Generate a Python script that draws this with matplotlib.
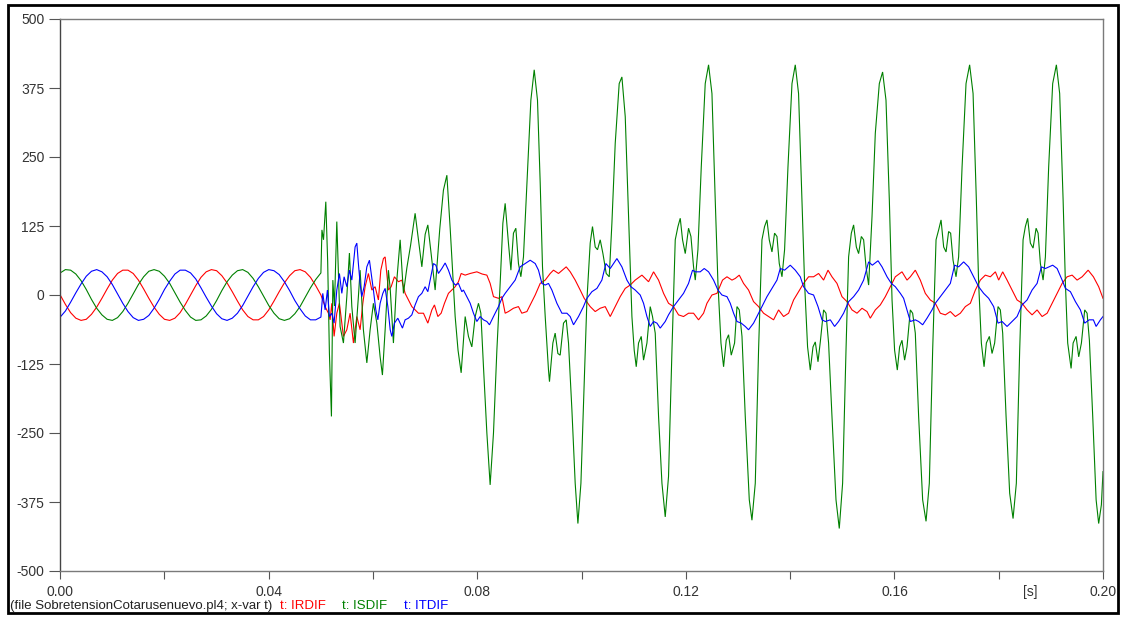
import matplotlib
matplotlib.use("Agg")
import matplotlib.pyplot as plt
from matplotlib.patches import Rectangle

# ---------------- data (time in ms, current values) ----------------
pre_t_ms = list(range(0, 51))
red_pre = [0, -17, -32, -42, -46, -44, -35, -22, -6, 11, 27, 39, 45, 45, 39, 27, 11, -6, -22, -35,
           -44, -46, -42, -32, -17, 0, 17, 32, 42, 46, 44, 35, 22, 6, -11, -27, -39, -45, -45, -39,
           -27, -11, 6, 22, 35, 44, 46, 42, 32, 17, 0]
green_pre = [40, 46, 45, 38, 26, 10, -8, -24, -36, -44, -46, -41, -30, -15, 2, 19, 33, 43, 46, 43,
             34, 21, 4, -13, -28, -40, -46, -45, -38, -26, -10, 8, 24, 36, 44, 46, 41, 30, 15, -2,
             -19, -33, -43, -46, -43, -34, -21, -4, 13, 28, 40]
blue_pre = [-40, -29, -13, 4, 20, 34, 43, 46, 42, 33, 19, 2, -15, -30, -41, -46, -44, -37, -24, -8,
            10, 25, 38, 45, 45, 40, 29, 13, -4, -20, -34, -43, -46, -42, -33, -19, -2, 15, 30, 41,
            46, 44, 37, 24, 8, -10, -25, -38, -45, -45, -40]

red_post = [(50.81,-21),(51.44,-33),(51.77,-45),(52.09,-15),(52.53,-75),(53.05,-33),(53.55,-15),(54.32,-75),
    (54.97,-63),(55.60,-33),(56.24,-87),(56.89,-39),(57.52,-63),(58.04,-15),(58.48,15),(59.11,39),(59.77,9),
    (60.40,15),(61.03,-9),(61.49,45),(61.99,66),(62.32,69),(62.95,9),(63.47,15),(64.10,33),(64.87,24),
    (65.52,27),(66.15,3),(66.79,-9),(67.44,-21),(68.07,-27),(68.71,-33),(69.67,-33),(70.51,-51),(71.28,-27),
    (71.78,-18),(72.43,-39),(73.06,-33),(73.70,-15),(74.46,3),(75.12,9),(75.75,15),(76.38,24),(76.90,39),
    (77.67,36),(78.63,39),(79.91,42),(80.93,38),(81.83,36),(82.46,21),(83.10,-3),(84.06,-6),(84.71,-3),
    (85.34,-33),(85.97,-30),(86.93,-24),(87.89,-21),(88.53,-33),(89.51,-30),(90.14,-18),(91.10,0),(92.06,21),
    (93.02,27),(93.98,39),(94.61,45),(95.57,39),(97.05,51),(97.82,42),(98.77,27),(99.73,9),(100.50,-6),
    (101.65,-21),(102.61,-30),(103.57,-24),(104.53,-21),(105.49,-39),(106.45,-21),(107.40,-3),(108.37,12),
    (109.32,18),(110.28,27),(111.57,36),(112.84,24),(113.80,42),(114.76,27),(115.72,3),(116.67,-15),
    (117.63,-21),(118.59,-36),(119.55,-39),(120.51,-33),(121.47,-33),(122.43,-45),(123.39,-33),(124.04,-15),
    (125.00,0),(125.96,3),(127.03,27),(127.88,33),(128.84,27),(129.47,30),(130.24,36),(131.06,21),(132.02,9),
    (132.98,-12),(133.94,-21),(134.90,-33),(135.86,-39),(136.82,-45),(137.78,-27),(138.74,-39),(139.70,-33),
    (140.66,-9),(141.61,6),(142.57,21),(143.53,33),(144.49,33),(145.45,39),(146.41,27),(147.26,45),(148.02,33),
    (148.98,21),(149.94,-3),(150.90,-12),(151.86,-27),(152.82,-33),(153.78,-24),(154.74,-30),(155.37,-42),
    (156.33,-27),(157.29,-18),(158.25,-3),(159.21,15),(160.17,33),(161.45,42),(162.41,27),(163.05,33),
    (164.00,45),(164.96,27),(165.92,3),(166.88,-9),(167.84,-15),(168.80,-33),(169.76,-36),(170.72,-30),
    (171.68,-39),(172.64,-33),(173.60,-21),(174.56,-15),(175.52,9),(176.47,27),(177.43,36),(178.40,33),
    (179.36,42),(179.99,27),(180.76,42),(181.60,27),(182.56,9),(183.52,-9),(184.48,-15),(185.44,-27),
    (186.40,-36),(187.36,-27),(188.32,-39),(189.29,-33),(190.24,-15),(191.20,3),(192.16,21),(193.12,33),
    (194.08,36),(195.03,27),(196.00,33),(197.15,45),(198.16,33),(199.17,15),(200.0,-6)]

blue_post = [(50.36,3),(50.81,-27),(51.25,9),(51.63,-39),(52.09,-33),(52.53,-51),(53.05,9),(53.55,39),(54.01,3),
    (54.45,33),(54.97,15),(55.47,45),(55.93,27),(56.56,87),(56.89,94),(57.19,57),(57.52,21),(57.84,-3),(58.29,15),
    (58.81,51),(59.31,63),(59.57,45),(60.07,9),(60.53,-27),(60.92,-45),(61.36,-15),(61.88,3),(62.32,12),
    (62.84,-21),(63.29,-63),(63.60,-75),(64.10,-51),(64.75,-42),(65.20,-51),(65.64,-60),(66.15,-45),(66.79,-42),
    (67.44,-36),(68.07,-18),(68.71,-3),(69.36,3),(69.99,15),(70.51,6),(70.95,27),(71.59,57),(72.05,54),
    (72.54,39),(73.20,48),(73.83,58),(74.46,45),(75.12,27),(75.75,18),(76.38,21),(77.03,6),(77.34,9),
    (77.99,-3),(78.63,-15),(79.26,-33),(79.91,-48),(80.55,-39),(81.18,-45),(81.83,-48),(82.33,-54),(83.10,-39),
    (84.06,-21),(84.71,-6),(85.34,3),(86.30,15),(87.26,27),(88.22,51),(89.17,57),(90.14,63),(91.10,57),
    (91.73,45),(92.38,21),(93.02,18),(93.65,21),(94.30,9),(95.26,-15),(96.22,-33),(97.18,-33),(97.81,-39),
    (98.45,-54),(99.41,-39),(100.36,-21),(101.02,-6),(101.98,6),(102.94,12),(103.89,27),(104.66,57),(105.49,48),
    (106.12,57),(106.77,66),(107.73,51),(108.69,27),(109.46,15),(110.28,9),(111.24,0),(111.88,-15),(112.53,-39),
    (113.16,-57),(113.80,-48),(114.45,-51),(115.08,-60),(116.04,-48),(116.67,-36),(117.63,-21),(118.59,-9),
    (119.55,3),(120.51,21),(121.28,45),(121.80,42),(122.75,42),(123.52,48),(124.35,42),(125.31,27),(126.15,9),
    (126.92,0),(127.88,-3),(128.51,-15),(129.15,-33),(129.80,-48),(130.62,-51),(131.39,-57),(132.02,-63),
    (132.98,-51),(133.63,-39),(134.59,-21),(135.55,-3),(136.51,12),(137.47,27),(138.10,48),(138.93,45),
    (140.02,54),(140.98,45),(141.94,33),(142.57,15),(143.53,3),(144.49,0),(145.34,-21),(146.11,-45),
    (146.74,-48),(147.70,-45),(148.52,-57),(149.29,-48),(150.25,-33),(151.21,-12),(152.17,-3),(153.13,9),
    (154.09,27),(155.05,60),(155.76,54),(156.85,62),(157.62,51),(158.58,33),(159.40,21),(160.17,15),
    (161.13,3),(161.76,-6),(162.41,-27),(163.05,-48),(164.00,-45),(164.64,-48),(165.41,-54),(166.25,-42),
    (167.21,-27),(167.84,-15),(168.80,-3),(169.76,9),(170.72,21),(171.54,54),(172.31,51),(173.27,60),
    (174.23,51),(175.19,33),(176.15,15),(177.11,3),(178.07,-6),(179.03,-21),(179.87,-51),(180.64,-48),
    (181.60,-57),(182.56,-48),(183.52,-39),(184.48,-18),(185.44,-9),(186.40,9),(187.36,21),(188.18,51),
    (188.95,48),(190.35,54),(191.20,48),(192.16,27),(192.79,12),(193.75,6),(194.71,-12),(195.67,-27),
    (196.49,-51),(197.34,-45),(198.16,-45),(198.68,-57),(199.50,-45),(200.0,-39)]

green_post = [(50.2,118),(50.5,100),(50.94,169),(51.3,60),(51.63,-105),(52.02,-220),(52.29,27),(52.6,-20),
    (53.05,133),(53.68,-57),(54.32,-87),(54.97,-3),(55.47,76),(55.93,-21),(56.56,-87),(57.19,-3),(57.52,45),
    (58.15,-63),(58.81,-123),(59.44,-63),(60.07,-15),(60.73,-51),(61.36,-112),(61.80,-145),(62.32,-63),
    (62.95,45),(63.3,10),(63.91,-87),(64.5,20),(65.20,100),(65.83,3),(66.5,50),(67.2,90),(68.07,148),
    (68.7,100),(69.36,51),(70.0,110),(70.51,127),(71.2,70),(71.91,9),(72.8,120),(73.5,190),(74.16,217),
    (74.8,120),(75.75,-39),(76.3,-100),(76.90,-141),(77.67,-39),(78.30,-75),(78.95,-94),(79.59,-39),
    (80.22,-15),(80.68,-33),(81.18,-130),(81.83,-250),(82.46,-344),(83.10,-250),(83.75,-100),(84.38,21),
    (84.90,130),(85.34,166),(85.97,94),(86.44,45),(86.93,112),(87.39,121),(87.89,57),(88.35,33),(88.85,69),
    (89.51,202),(90.27,353),(90.91,408),(91.54,353),(92.06,203),(92.50,51),(93.02,-39),(93.65,-136),
    (93.84,-157),(94.49,-87),(94.93,-69),(95.45,-106),(95.89,-109),(96.53,-51),(97.05,-45),(97.49,-87),
    (98.14,-208),(98.77,-341),(99.29,-414),(99.87,-341),(100.50,-160),(101.02,-9),(101.65,94),(102.09,124),
    (102.61,87),(103.05,82),(103.57,100),(104.09,75),(104.72,39),(105.30,33),(105.81,130),(106.45,275),
    (107.21,383),(107.73,395),(108.37,323),(109.00,142),(109.65,-39),(110.09,-100),(110.48,-130),(110.92,-87),
    (111.44,-75),(111.88,-118),(112.53,-87),(113.16,-21),(113.60,-39),(114.12,-69),(114.76,-220),(115.41,-341),
    (116.04,-402),(116.67,-329),(117.33,-100),(117.96,100),(118.48,124),(118.92,139),(119.36,100),(119.88,75),
    (120.51,121),(120.97,106),(121.47,51),(121.80,27),(122.31,82),(122.95,232),(123.71,383),(124.35,417),
    (125.00,365),(125.63,172),(126.15,21),(126.73,-87),(127.23,-130),(127.74,-82),(128.19,-72),(128.70,-109),
    (129.34,-87),(129.80,-21),(130.24,-27),(130.76,-75),(131.39,-220),(132.16,-371),(132.67,-408),(133.31,-341),
    (133.94,-100),(134.59,100),(135.09,124),(135.55,136),(135.99,100),(136.51,78),(137.01,112),(137.47,106),
    (137.91,57),(138.43,33),(138.93,82),(139.58,232),(140.35,383),(140.98,417),(141.61,365),(142.27,172),
    (142.77,21),(143.34,-94),(143.86,-136),(144.38,-94),(144.82,-85),(145.34,-121),(145.78,-85),(146.41,-27),
    (146.87,-33),(147.37,-87),(148.02,-220),(148.79,-371),(149.42,-423),(150.06,-341),(150.71,-100),(151.21,69),
    (151.73,112),(152.17,127),(152.69,87),(153.13,75),(153.65,106),(154.09,100),(154.55,51),(155.05,18),
    (155.70,142),(156.33,293),(157.10,383),(157.73,404),(158.38,353),(159.02,172),(159.54,-9),(160.03,-100),
    (160.55,-136),(160.99,-94),(161.45,-82),(161.95,-118),(162.41,-94),(163.05,-27),(163.49,-33),(164.00,-69),
    (164.64,-220),(165.41,-371),(166.06,-410),(166.69,-341),(167.33,-100),(167.98,100),(168.48,118),(168.94,136),
    (169.44,87),(169.90,78),(170.39,115),(170.78,112),(171.24,63),(171.81,33),(172.31,69),(172.97,232),
    (173.73,383),(174.42,417),(175.08,365),(175.71,172),(176.15,21),(176.67,-87),(177.19,-130),(177.63,-87),
    (178.21,-75),(178.72,-106),(179.22,-87),(179.87,-21),(180.31,-27),(180.76,-69),(181.41,-220),(182.10,-359),
    (182.75,-405),(183.38,-341),(184.02,-100),(184.67,100),(185.11,124),(185.55,139),(186.07,94),(186.59,85),
    (187.17,121),(187.55,112),(187.99,57),(188.51,27),(188.95,69),(189.58,232),(190.35,383),(191.06,417),
    (191.69,365),(192.35,172),(192.79,21),(193.23,-87),(193.88,-133),(194.27,-87),(194.84,-75),(195.34,-112),
    (195.86,-87),(196.49,-27),(196.95,-33),(197.39,-82),(198.03,-220),(198.68,-371),(199.17,-414),(199.69,-380),
    (200.0,-320)]

y_ticks = [-500, -375, -250, -125, 0, 125, 250, 375, 500]
y_tick_labels = ["-500", "-375", "-250", "-125", "0", "125", "250", "375", "500"]
x_ticks = [0.00, 0.02, 0.04, 0.06, 0.08, 0.10, 0.12, 0.14, 0.16, 0.18, 0.20]
x_tick_labels = ["0.00", "", "0.04", "", "0.08", "", "0.12", "", "0.16", "", "0.20"]
series_names = ["t: IRDIF", "t: ISDIF", "t: ITDIF"]
series_colors = ["#ff0000", "#008000", "#0000ff"]
file_label = "(file SobretensionCotarusenuevo.pl4; x-var t)"

# ---------------- figure ----------------
plt.rcParams['font.family'] = ['Liberation Sans', 'DejaVu Sans']
W, H = 1122, 617
fig = plt.figure(figsize=(W / 100, H / 100), dpi=100)
fig.patch.set_facecolor("white")

def fx(px):
    return px / W

def fy(py):
    return 1 - py / H

L, R, T, B = 60.2, 1103, 19, 571
ax = fig.add_axes([fx(L), fy(B), fx(R) - fx(L), fy(T) - fy(B)])

def build(pre, post):
    t = [v / 1000.0 for v in pre_t_ms] + [p[0] / 1000.0 for p in post]
    y = list(pre) + [p[1] for p in post]
    return t, y

for (pre, post), col in zip([(red_pre, red_post), (green_pre, green_post), (blue_pre, blue_post)],
                            series_colors):
    t, y = build(pre, post)
    ax.plot(t, y, color=col, lw=0.8, solid_joinstyle="miter")

ax.set_xlim(0, 0.2)
ax.set_ylim(-500, 500)
ax.set_yticks(y_ticks)
ax.set_yticklabels(y_tick_labels)
ax.set_xticks(x_ticks)
ax.set_xticklabels(x_tick_labels)
ax.tick_params(axis="y", direction="out", length=8, width=0.8, color="#555555",
               labelsize=10, labelcolor="#333333", pad=3.5)
ax.tick_params(axis="x", direction="out", length=6, width=0.8, color="#555555",
               labelsize=10, labelcolor="#333333", pad=4)
for side, sp in ax.spines.items():
    sp.set_color("#7a7a7a")
    sp.set_linewidth(1.0)
ax.spines["left"].set_color("#444444")

# unit label
fig.text(fx(1030), fy(592), "[s]", fontsize=10, color="#333333", ha="center", va="center")

# footer
fig.text(fx(10), fy(606), file_label, fontsize=9.5, color="#222222", ha="left", va="center")
for name, col, xp in zip(series_names, series_colors, [280, 342, 404]):
    fig.text(fx(xp), fy(606), name, fontsize=9.5, color=col, ha="left", va="center")

# outer frame
fig.patches.append(Rectangle((fx(8), fy(613)), fx(1118) - fx(8), fy(5) - fy(613),
                             transform=fig.transFigure, fill=False, edgecolor="black",
                             linewidth=2.0))

fig.savefig("out.png", dpi=100)
